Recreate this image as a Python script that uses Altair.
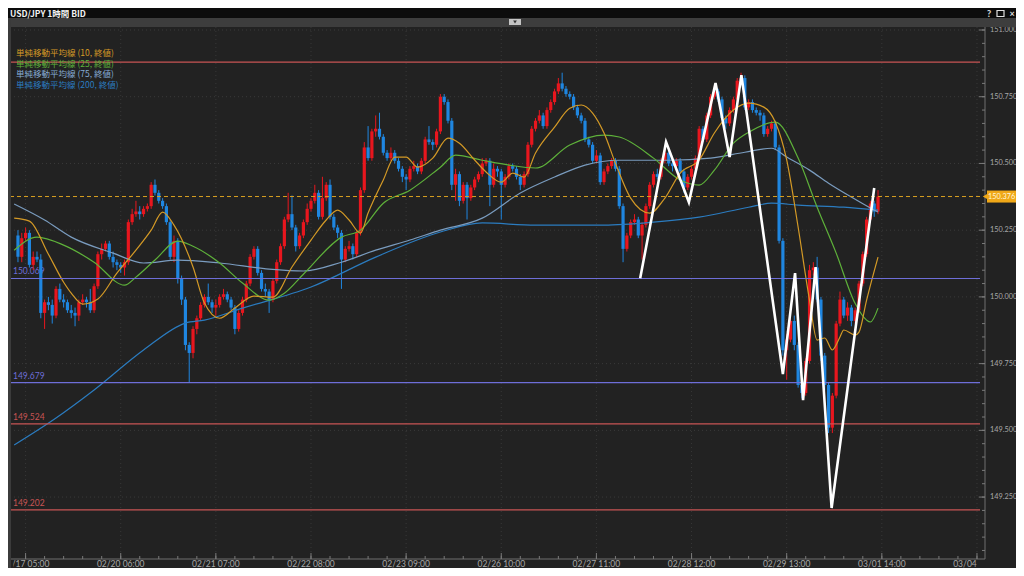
import altair as alt
import pandas as pd

# ---------------- data ----------------
first_open = 150.23
close = [150.15,150.22,150.24,150.12,150.15,150.14,149.94,149.98,149.97,149.93,
150.03,149.99,149.98,149.95,149.94,149.93,149.98,149.99,149.98,149.95,
150.04,150.16,150.18,150.20,150.15,150.13,150.12,150.11,150.13,150.28,
150.31,150.32,150.31,150.33,150.34,150.42,150.39,150.36,150.34,150.28,
150.15,150.21,150.07,149.99,149.82,149.79,149.88,149.92,149.97,150.00,
149.98,149.96,149.97,150.00,150.01,149.99,149.96,149.88,149.94,149.99,
150.05,150.15,150.18,150.09,150.03,150.02,149.99,150.06,150.13,150.19,
150.29,150.31,150.26,150.19,150.23,150.28,150.33,150.36,150.39,150.30,
150.37,150.42,150.30,150.26,150.24,150.14,150.18,150.19,150.16,150.24,
150.40,150.56,150.52,150.62,150.63,150.60,150.54,150.52,150.54,150.51,
150.48,150.45,150.44,150.48,150.49,150.47,150.51,150.59,150.58,150.57,
150.62,150.75,150.73,150.66,150.42,150.46,150.36,150.42,150.37,150.41,
150.44,150.46,150.50,150.51,150.42,150.48,150.47,150.42,150.45,150.49,
150.48,150.45,150.42,150.46,150.57,150.63,150.66,150.68,150.64,150.70,
150.73,150.77,150.80,150.78,150.76,150.75,150.71,150.68,150.66,150.59,
150.57,150.51,150.53,150.43,150.47,150.49,150.51,150.48,150.34,150.18,
150.23,150.28,150.29,150.23,150.27,150.34,150.42,150.46,150.45,150.51,
150.54,150.50,150.49,150.51,150.47,150.41,150.45,150.48,150.52,150.63,
150.59,150.68,150.75,150.77,150.74,150.67,150.65,150.70,150.74,150.81,
150.82,150.71,150.73,150.70,150.69,150.68,150.61,150.63,150.65,150.56,
150.21,149.80,149.84,149.91,149.82,149.67,149.64,149.76,150.10,150.11,
149.99,149.78,149.67,149.51,149.63,149.90,149.99,149.93,149.96,149.91,
149.95,150.05,150.16,150.29,150.35,150.32,150.376]

high = [150.25,150.24,150.26,150.25,150.17,150.17,150.16,149.99,150.00,149.99,
150.04,150.05,150.01,149.99,149.97,149.96,149.99,150.01,150.00,150.03,
150.05,150.17,150.20,150.21,150.21,150.17,150.14,150.13,150.14,150.29,
150.33,150.36,150.34,150.34,150.35,150.43,150.44,150.40,150.37,150.35,
150.29,150.23,150.22,150.08,150.00,149.83,149.89,149.93,149.98,150.01,
150.05,149.99,149.99,150.01,150.03,150.02,150.00,149.97,149.95,150.00,
150.06,150.16,150.19,150.19,150.10,150.05,150.03,150.07,150.14,150.20,
150.30,150.39,150.38,150.27,150.24,150.29,150.35,150.37,150.42,150.40,
150.45,150.43,150.44,150.31,150.27,150.25,150.19,150.21,150.20,150.25,
150.41,150.58,150.64,150.63,150.68,150.69,150.61,150.55,150.56,150.55,
150.52,150.49,150.46,150.49,150.51,150.50,150.52,150.60,150.64,150.59,
150.63,150.76,150.76,150.74,150.67,150.48,150.47,150.43,150.43,150.42,
150.45,150.47,150.52,150.52,150.52,150.50,150.49,150.48,150.46,150.50,
150.50,150.49,150.46,150.47,150.58,150.64,150.67,150.70,150.69,150.71,
150.74,150.78,150.82,150.84,150.79,150.77,150.76,150.72,150.69,150.67,
150.60,150.58,150.55,150.54,150.48,150.50,150.52,150.52,150.49,150.35,
150.24,150.29,150.31,150.30,150.28,150.35,150.43,150.47,150.48,150.52,
150.56,150.55,150.51,150.52,150.52,150.48,150.46,150.49,150.53,150.64,
150.64,150.69,150.76,150.79,150.78,150.75,150.68,150.71,150.75,150.82,
150.84,150.83,150.74,150.74,150.71,150.70,150.69,150.64,150.66,150.66,
150.57,150.22,149.86,149.92,149.93,149.83,149.69,149.77,150.12,150.13,
150.15,150.00,149.79,149.68,149.64,149.91,150.02,150.00,149.98,149.97,
149.96,150.06,150.17,150.30,150.36,150.36,150.40]

low = [150.13,150.13,150.21,150.11,150.10,150.13,149.92,149.88,149.95,149.90,
149.92,149.98,149.96,149.94,149.92,149.89,149.91,149.97,149.96,149.94,
149.94,150.03,150.14,150.17,150.14,150.11,150.10,150.09,150.08,150.12,
150.27,150.30,150.29,150.30,150.32,150.33,150.38,150.35,150.33,150.27,
150.14,150.13,150.05,149.97,149.80,149.68,149.77,149.86,149.91,149.96,
149.97,149.94,149.93,149.96,149.99,149.98,149.95,149.86,149.87,149.93,
149.98,150.04,150.14,150.08,150.02,150.00,149.94,149.98,150.05,150.12,
150.18,150.28,150.25,150.17,150.18,150.22,150.27,150.32,150.35,150.29,
150.29,150.36,150.29,150.25,150.22,150.03,150.13,150.17,150.14,150.15,
150.23,150.39,150.51,150.51,150.60,150.59,150.53,150.51,150.51,150.50,
150.47,150.43,150.40,150.43,150.47,150.46,150.46,150.50,150.57,150.55,
150.56,150.61,150.72,150.65,150.40,150.36,150.34,150.35,150.29,150.36,
150.40,150.43,150.45,150.49,150.34,150.41,150.45,150.29,150.41,150.44,
150.47,150.44,150.40,150.41,150.45,150.56,150.62,150.65,150.63,150.63,
150.69,150.72,150.76,150.77,150.75,150.74,150.70,150.67,150.65,150.58,
150.56,150.50,150.50,150.42,150.42,150.46,150.48,150.47,150.33,150.13,
150.17,150.22,150.27,150.22,150.14,150.26,150.33,150.41,150.44,150.44,
150.50,150.49,150.47,150.48,150.46,150.39,150.40,150.44,150.47,150.51,
150.58,150.58,150.67,150.74,150.73,150.66,150.63,150.64,150.69,150.73,
150.80,150.70,150.70,150.69,150.68,150.66,150.60,150.60,150.62,150.55,
150.20,149.78,149.69,149.83,149.80,149.66,149.62,149.63,149.75,150.08,
149.98,149.76,149.65,149.49,149.49,149.62,149.89,149.92,149.91,149.89,
149.90,149.94,150.04,150.15,150.28,150.30,150.31]

ma10_i = [-1,3,8,12,14,17,21,26,31,35,38,41,46,49,53,57,62,67,72,77,81,84,87,90,92,96,99,102,105,109,
          113,116,120,123,127,130,133,136,141,145,148,151,154,157,161,166,170,174,179,183,188,192,196,199,202,
          205,208,210,212,214,216,217,220,221,223,226]
ma10_v = [150.295,150.284,150.160,150.055,150.014,149.973,149.992,150.089,150.175,150.250,150.318,150.269,
          150.112,149.977,149.920,149.958,150.003,149.999,150.112,150.213,150.288,150.325,150.288,150.239,
          150.314,150.438,150.524,150.524,150.486,150.520,150.595,150.576,150.513,150.468,150.430,150.464,
          150.449,150.539,150.636,150.707,150.719,150.689,150.614,150.501,150.370,150.314,150.370,150.464,
          150.513,150.614,150.700,150.726,150.711,150.655,150.513,150.262,149.988,149.838,149.846,149.801,
          149.850,149.876,149.857,149.868,149.988,150.149]

ma25_i = [-1,5,12,20,28,31,36,42,46,53,59,66,70,75,85,90,96,103,111,115,122,129,136,145,154,158,167,174,
          179,183,188,192,199,205,210,215,220,223,224,226]
ma25_v = [150.175,150.224,150.194,150.130,150.044,150.074,150.138,150.209,150.190,150.127,150.052,149.988,
          150.014,150.085,150.224,150.250,150.351,150.400,150.486,150.531,150.512,150.494,150.483,150.569,
          150.606,150.599,150.520,150.438,150.419,150.475,150.576,150.617,150.655,150.520,150.336,150.164,
          149.975,149.913,149.906,149.958]

ma75_i = [-1,7,14,25,33,42,53,66,75,85,94,103,111,122,132,141,149,158,171,182,191,198,202,208,213,219,224,226]
ma75_v = [150.348,150.288,150.224,150.164,150.127,150.138,150.127,150.104,150.097,150.130,150.175,150.213,
          150.250,150.295,150.389,150.449,150.494,150.512,150.512,150.520,150.542,150.557,150.524,150.475,
          150.426,150.374,150.333,150.318]

ma200_i = [-1,10,20,33,44,49,59,77,94,111,122,136,154,167,179,192,198,205,217,226]
ma200_v = [149.445,149.546,149.651,149.801,149.902,149.913,149.958,150.037,150.149,150.243,150.277,150.269,
           150.269,150.280,150.299,150.336,150.351,150.344,150.336,150.325]

zz_i = [163.5,170.3,176.3,183.3,187.0,190.1,201.0,204.2,206.3,209.6,213.8,225.0]
zz_v = [150.070,150.580,150.355,150.801,150.524,150.831,149.711,150.089,149.613,150.112,149.209,150.408]

hl_price = [150.88, 150.069, 149.679, 149.524, 149.202]
hl_label = ["", "150.069", "149.679", "149.524", "149.202"]
hl_kind = ["r", "b", "b", "r", "r"]
last_price = 150.376

x_tick_idx = [2, 27, 52, 77, 102, 127, 152, 177, 202, 227, 252]
x_tick_lab = ["02/17 05:00", "02/20 06:00", "02/21 07:00", "02/22 08:00", "02/23 09:00", "02/26 10:00",
              "02/27 11:00", "02/28 12:00", "02/29 13:00", "03/01 14:00", "03/04 15:00"]
x_minor_idx = list(range(2, 253, 5))
y_major = [149.25, 149.5, 149.75, 150.0, 150.25, 150.5, 150.75, 151.0]
y_minor = [round(149.05 + 0.05 * k, 2) for k in range(40)]

legend_lab = ["単純移動平均線 (10, 終値)", "単純移動平均線 (25, 終値)",
              "単純移動平均線 (75, 終値)", "単純移動平均線 (200, 終値)"]

# ---------------- styling ----------------
BG = "#222222"
UP = "#e8161e"
DN = "#1f86e0"
C10, C25, C75, C200 = "#d49a26", "#5eb13a", "#7a9cbf", "#2b7cc0"
NUMF = "Lato"
JPF = "Noto Sans CJK JP"
PW, PH = 975, 532
XS = alt.Scale(domain=[-3 / 3.845, (PW - 3) / 3.845], nice=False, zero=False)
YS = alt.Scale(domain=[151 - (PH - 3) / 266.9, 151 + 3 / 266.9], nice=False, zero=False)

def X(f):
    return alt.X(f, scale=XS, axis=None)

def Y(f):
    return alt.Y(f, scale=YS, axis=None)

one = pd.DataFrame({"a": [0]})

# ---------------- layers ----------------
cd = pd.DataFrame({"i": range(len(close)), "o": [first_open] + close[:-1], "c": close, "h": high, "l": low})
ccol = alt.condition("datum.c >= datum.o", alt.value(UP), alt.value(DN))

grid_h = alt.Chart(pd.DataFrame({"p": y_major})).mark_rule(color="#3a3a3a", strokeDash=[1, 3]).encode(
    y=Y("p:Q"), x=alt.value(0), x2=alt.value(PW))
grid_v = alt.Chart(pd.DataFrame({"i": x_tick_idx})).mark_rule(color="#383838", strokeDash=[1, 3], clip=True).encode(
    x=X("i:Q"), y=alt.value(0), y2=alt.value(PH))

wick = alt.Chart(cd).mark_rule(strokeWidth=1, clip=True).encode(x=X("i:Q"), y=Y("l:Q"), y2="h:Q", color=ccol)
body = alt.Chart(cd).mark_bar(size=3.2, clip=True).encode(x=X("i:Q"), y=Y("o:Q"), y2="c:Q", color=ccol)

def ma(ii, vv, col):
    return alt.Chart(pd.DataFrame({"i": ii, "v": vv})).mark_line(
        color=col, strokeWidth=1.2, clip=True, interpolate="monotone").encode(x=X("i:Q"), y=Y("v:Q"))

hcol = alt.Color("k:N", scale=alt.Scale(domain=["r", "b"], range=["#8c3a3a", "#4a4aa8"]), legend=None)
tcol = alt.Color("k:N", scale=alt.Scale(domain=["r", "b"], range=["#c85454", "#6e6ed8"]), legend=None)
hdf = pd.DataFrame({"p": hl_price, "t": hl_label, "k": hl_kind})
hlines = alt.Chart(hdf).mark_rule(strokeWidth=1.2).encode(y=Y("p:Q"), x=alt.value(0), x2=alt.value(970), color=hcol)
hlabels = alt.Chart(hdf).mark_text(align="left", baseline="bottom", dy=-2, fontSize=8.5, font=NUMF).encode(
    y=Y("p:Q"), x=alt.value(3), text="t:N", color=tcol)

lp = pd.DataFrame({"p": [last_price], "t": [f"{last_price:.3f}"]})
dashed = alt.Chart(lp).mark_rule(color="#d9a020", strokeDash=[4, 3], strokeWidth=1).encode(
    y=Y("p:Q"), x=alt.value(0), x2=alt.value(970))

zig = alt.Chart(pd.DataFrame({"i": zz_i, "v": zz_v})).mark_line(color="white", strokeWidth=2.6).encode(
    x=X("i:Q"), y=Y("v:Q"))

# axes drawn by hand
yaxis_line = alt.Chart(one).mark_rule(color="#6e6e6e").encode(
    x=alt.value(PW), y=alt.value(0), y2=alt.value(PH))
xaxis_line = alt.Chart(one).mark_rule(color="#6e6e6e").encode(
    x=alt.value(0), x2=alt.value(PW), y=alt.value(PH))
ymin = alt.Chart(pd.DataFrame({"p": y_minor})).mark_rule(color="#7a7a7a").encode(
    y=Y("p:Q"), x=alt.value(PW - 3), x2=alt.value(PW))
ymaj = alt.Chart(pd.DataFrame({"p": y_major})).mark_rule(color="#7a7a7a").encode(
    y=Y("p:Q"), x=alt.value(PW - 6), x2=alt.value(PW))
ylab = alt.Chart(pd.DataFrame({"p": y_major, "t": [f"{v:.3f}" for v in y_major]})).mark_text(
    align="left", baseline="middle", fontSize=7.3, font=NUMF, color="#a8a8a8").encode(
    y=Y("p:Q"), x=alt.value(980), text="t:N")
xmin = alt.Chart(pd.DataFrame({"i": x_minor_idx})).mark_rule(color="#7a7a7a").encode(
    x=X("i:Q"), y=alt.value(PH - 3), y2=alt.value(PH))
xmaj = alt.Chart(pd.DataFrame({"i": x_tick_idx})).mark_rule(color="#7a7a7a").encode(
    x=X("i:Q"), y=alt.value(PH - 6), y2=alt.value(PH))
xlab = alt.Chart(pd.DataFrame({"i": x_tick_idx, "t": x_tick_lab})).mark_text(
    align="center", baseline="alphabetic", fontSize=8.5, font=NUMF, color="#a8a8a8").encode(
    x=X("i:Q"), y=alt.value(540), text="t:N")

# price tag
tag_rect = alt.Chart(lp).transform_calculate(p1="datum.p + 0.0225", p2="datum.p - 0.0225").mark_rect(
    color="#f0a818").encode(y=Y("p1:Q"), y2="p2:Q", x=alt.value(977), x2=alt.value(1008))
tag_tri = alt.Chart(lp).mark_point(shape="triangle-left", filled=True, size=55, color="#f0a818", opacity=1).encode(
    y=Y("p:Q"), x=alt.value(976))
tag_txt = alt.Chart(lp).mark_text(align="left", baseline="middle", fontSize=7.3, font=NUMF, color="#fff6d8").encode(
    y=Y("p:Q"), x=alt.value(978), text="t:N")

# window chrome
def rect(x1, x2, y1, y2, col):
    return alt.Chart(one).mark_rect(color=col).encode(
        x=alt.value(x1), x2=alt.value(x2), y=alt.value(y1), y2=alt.value(y2))

cover_r = rect(967, 1010, PH + 1, PH + 12, BG)
cover_l = rect(1, 3.3, PH + 1, PH + 12, BG)
title_bar = rect(-4, 1010, -22, -9, "#0c0c0c")
strip = rect(-4, 1010, -9, 0, "#3d3d3d")
left_strip = rect(-4, 1, -9, PH + 12, "#3b3b3b")
drop_btn = rect(499, 511, -8, -2, "#c4c4c4")
drop_tri = alt.Chart(one).mark_point(shape="triangle-down", filled=True, size=14, color="#333", opacity=1).encode(
    x=alt.value(505), y=alt.value(-5))
title_txt = alt.Chart(one).mark_text(align="left", baseline="middle", fontSize=8.5, fontWeight="bold",
                                     font=JPF, color="#f2f2f2").encode(
    x=alt.value(0), y=alt.value(-13.5), text=alt.value("USD/JPY 1時間 BID"))
icon_q = alt.Chart(one).mark_text(align="center", baseline="middle", fontSize=9, fontWeight="bold",
                                  font=NUMF, color="#e0e0e0").encode(
    x=alt.value(979), y=alt.value(-13.5), text=alt.value("?"))
icon_box = alt.Chart(one).mark_rect(stroke="#e0e0e0", strokeWidth=1.2, fill="#0c0c0c").encode(
    x=alt.value(987), x2=alt.value(994), y=alt.value(-16.5), y2=alt.value(-10.5))
icon_x = alt.Chart(one).mark_text(align="center", baseline="middle", fontSize=9, fontWeight="bold",
                                  font=NUMF, color="#e0e0e0").encode(
    x=alt.value(1002), y=alt.value(-13.5), text=alt.value("×"))

leg_cols = [C10, C25, "#86acd4", C200]
leg_y = [26, 36.5, 47, 57.5]
legend = [alt.Chart(one).mark_text(align="left", baseline="middle", fontSize=8.5, font=JPF, color=leg_cols[k]).encode(
    x=alt.value(6), y=alt.value(leg_y[k]), text=alt.value(legend_lab[k])) for k in range(4)]

chart = alt.layer(
    grid_h, grid_v,
    hlabels,
    wick, body,
    ma(ma200_i, ma200_v, C200), ma(ma75_i, ma75_v, C75), ma(ma25_i, ma25_v, C25), ma(ma10_i, ma10_v, C10),
    hlines, dashed, zig,
    yaxis_line, xaxis_line, ymin, ymaj, ylab, xmin, xmaj, xlab,
    tag_rect, tag_tri, tag_txt,
    cover_r, cover_l, title_bar, strip, left_strip, drop_btn, drop_tri, title_txt, icon_q, icon_box, icon_x,
    *legend,
).properties(
    width=PW, height=PH,
    padding={"left": 2, "top": 19, "right": 31, "bottom": 9},
    autosize=alt.AutoSizeParams(type="none"),
    background=BG,
).configure_view(stroke=None)

chart.save("out.html", embed_options={"renderer": "svg", "actions": False})
